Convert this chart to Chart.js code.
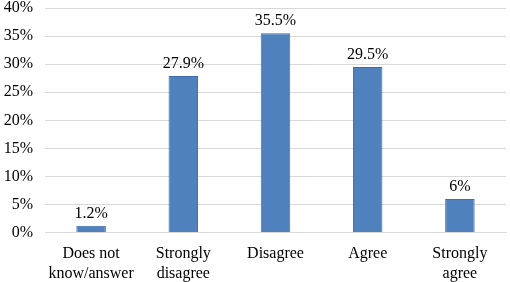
<!DOCTYPE html>
<html>
<head>
<meta charset="utf-8">
<script src="https://cdn.jsdelivr.net/npm/chart.js@4"></script>
<style>
  html, body { margin: 0; padding: 0; background: #fff; }
  #wrap { width: 510px; height: 282px; position: relative; }
</style>
</head>
<body>
<div id="wrap"><canvas id="chart"></canvas></div>
<script>
const categories = [
    ['Does not', 'know/answer'],
    ['Strongly', 'disagree'],
    'Disagree',
    'Agree',
    ['Strongly', 'agree']
];
const percentValues = [1.2, 27.9, 35.5, 29.5, 6];
const valueLabels = ['1.2%', '27.9%', '35.5%', '29.5%', '6%'];

const serif = '"Liberation Serif", "Times New Roman", serif';

// draws the value above each bar
const barLabels = {
    id: 'barLabels',
    afterDatasetsDraw(chart) {
        const ctx = chart.ctx;
        const meta = chart.getDatasetMeta(0);
        ctx.save();
        ctx.font = '16px ' + serif;
        ctx.fillStyle = '#000';
        ctx.textAlign = 'center';
        ctx.textBaseline = 'bottom';
        meta.data.forEach(function (bar, i) {
            ctx.fillText(valueLabels[i], bar.x, bar.y - 4);
        });
        ctx.restore();
    }
};

new Chart(document.getElementById('chart').getContext('2d'), {
    type: 'bar',
    data: {
        labels: categories,
        datasets: [{
            data: percentValues,
            backgroundColor: '#4F81BD',
            borderColor: '#3D6CA8',
            borderWidth: 1,
            barPercentage: 0.32,
            categoryPercentage: 1
        }]
    },
    options: {
        responsive: true,
        maintainAspectRatio: false,
        animation: false,
        layout: { padding: { top: 8, right: 4, left: 0, bottom: -13 } },
        plugins: {
            legend: { display: false },
            tooltip: { enabled: false }
        },
        scales: {
            x: {
                grid: { display: false, drawTicks: false },
                border: { color: '#D9D9D9' },
                ticks: {
                    color: '#000',
                    font: { family: serif, size: 16 },
                    padding: 12,
                    maxRotation: 0,
                    autoSkip: false
                }
            },
            y: {
                min: 0,
                max: 40,
                grid: { color: '#D9D9D9', drawTicks: false },
                border: { display: false },
                afterFit: function (scale) {
                    scale.width = 45;
                    scale.paddingTop = 0;
                    scale.paddingBottom = 0;
                },
                ticks: {
                    stepSize: 5,
                    color: '#000',
                    font: { family: serif, size: 16 },
                    padding: 12,
                    callback: function (v) { return v + '%'; }
                }
            }
        }
    },
    plugins: [barLabels]
});
</script>
</body>
</html>
